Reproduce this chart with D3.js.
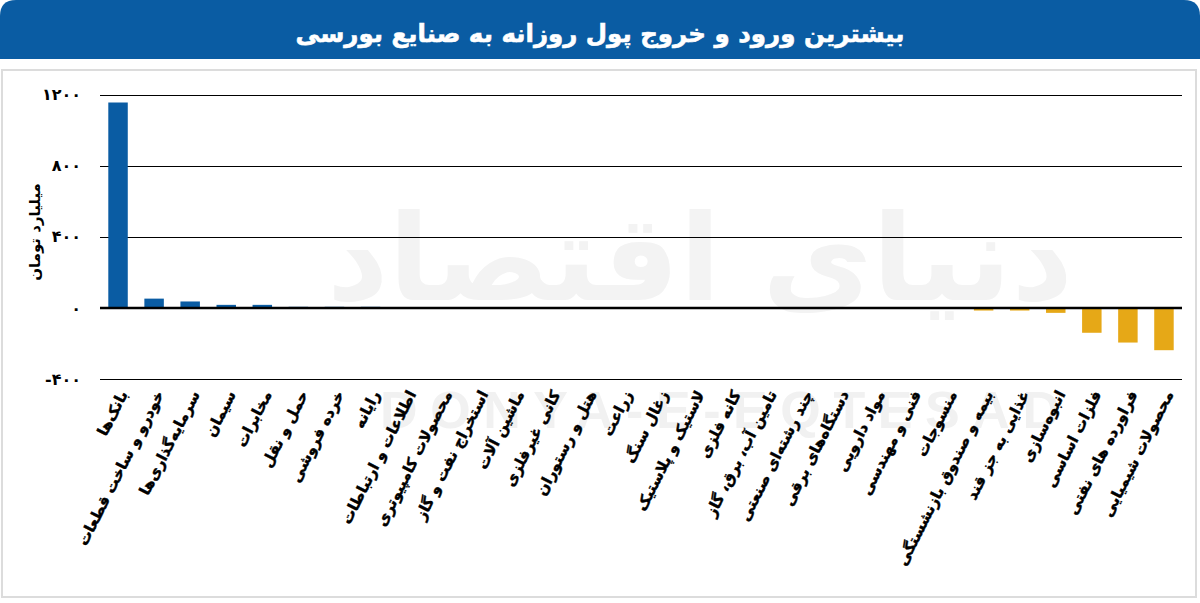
<!DOCTYPE html>
<html><head><meta charset="utf-8">
<script src="https://cdn.jsdelivr.net/npm/d3@7/dist/d3.min.js"></script>
<style>
html,body{margin:0;padding:0;background:#fff;}
svg{display:block;}
</style></head>
<body>
<svg id="chart" width="1200" height="603"></svg>
<script>
const title = "بیشترین ورود و خروج پول روزانه به صنایع بورسی";
const yLabel = "میلیارد تومان";
const categories = [
  "بانک‌ها","خودرو و ساخت قطعات","سرمایه‌گذاری‌ها","سیمان","مخابرات","حمل و نقل","خرده فروشی","رایانه",
  "اطلاعات و ارتباطات","محصولات کامپیوتری","استخراج نفت و گاز","ماشین آلات","کانی غیرفلزی","هتل و رستوران",
  "زراعت","زغال سنگ","لاستیک و پلاستیک","کانه فلزی","تامین آب، برق، گاز","چند رشته‌ای صنعتی",
  "دستگاه‌های برقی","مواد دارویی","فنی و مهندسی","منسوجات","بیمه و صندوق بازنشستگی","غذایی به جز قند",
  "انبوه‌سازی","فلزات اساسی","فراورده های نفتی","محصولات شیمیایی"
];
const values = [1155, 52, 36, 17, 17, 6, 6, 6,
  0, 0, 0, 0, 0, 0, 0, 0, 0,
  -5, -5, -5, -5, -5, -5, -5, -15, -15, -28, -140, -195, -238];
const yTicks = [-400, 0, 400, 800, 1200];
const yTickLabels = ["-۴۰۰", "۰", "۴۰۰", "۸۰۰", "۱۲۰۰"];

const svg = d3.select("#chart");
const W = 1200, H = 603;
const blue = "#0a5ca3", orange = "#e6a817";

// title bar
const r = 16;
svg.append("path")
  .attr("d", `M0,59 L0,${r} Q0,0 ${r},0 L${W - r},0 Q${W},0 ${W},${r} L${W},59 Z`)
  .attr("fill", blue);
svg.append("text").attr("x", W / 2).attr("y", 42)
  .attr("text-anchor", "middle").attr("fill", "#fff")
  .attr("font-family", "DejaVu Sans").attr("font-weight", "bold").attr("font-size", 24.5)
  .attr("stroke", "#fff").attr("stroke-width", 0.6)
  .text(title);

// frame
svg.append("rect").attr("x", 2).attr("y", 70).attr("width", 1194).attr("height", 527)
  .attr("fill", "none").attr("stroke", "#dcdcdc").attr("stroke-width", 2);

// watermark
svg.append("text").attr("x", 700).attr("y", 300).attr("text-anchor", "middle")
  .attr("fill", "#f3f3f3").attr("font-family", "DejaVu Sans").attr("font-weight", "bold")
  .attr("font-size", 120).text("دنیای اقتصاد");
svg.append("text").attr("x", 720).attr("y", 428).attr("text-anchor", "middle")
  .attr("fill", "#f1f1f1").attr("font-family", "Liberation Sans").attr("font-weight", "bold")
  .attr("font-size", 52).attr("textLength", 680).text("DONYA-E-EQTESAD");

const x = d3.scaleBand().domain(categories).range([100, 1182]).paddingInner(0.46).paddingOuter(0.23);
const y = d3.scaleLinear().domain([-400, 1200]).range([379, 94.5]);

// gridlines
const grid = svg.append("g");
grid.selectAll("line").data(yTicks.filter(d => d !== 0)).join("line")
  .attr("x1", 100).attr("x2", 1182)
  .attr("y1", d => Math.round(y(d)) + 0.5).attr("y2", d => Math.round(y(d)) + 0.5)
  .attr("stroke", "#000").attr("stroke-width", 1);

// y axis labels
const yAxis = d3.axisLeft(y).tickValues(yTicks).tickSize(0).tickPadding(0)
  .tickFormat((d) => yTickLabels[yTicks.indexOf(d)]);
const ya = svg.append("g").attr("transform", "translate(81,0)").call(yAxis);
ya.select(".domain").remove();
ya.selectAll("text").attr("font-family", "DejaVu Sans").attr("font-weight", "bold")
  .attr("font-size", 16).attr("fill", "#000");

svg.append("text").attr("transform", "translate(40,232) rotate(-90)")
  .attr("text-anchor", "middle").attr("font-family", "DejaVu Sans").attr("font-weight", "bold")
  .attr("font-size", 15).attr("fill", "#000").text(yLabel);

// bars
svg.append("g").selectAll("rect").data(categories).join("rect")
  .attr("x", d => x(d))
  .attr("width", x.bandwidth())
  .attr("y", (d, i) => y(Math.max(0, values[i])))
  .attr("height", (d, i) => Math.abs(y(values[i]) - y(0)))
  .attr("fill", (d, i) => values[i] >= 0 ? blue : orange);

// zero line
svg.append("line").attr("x1", 100).attr("x2", 1182).attr("y1", y(0)).attr("y2", y(0))
  .attr("stroke", "#000").attr("stroke-width", 2.5);

// x labels
const xAxis = d3.axisBottom(x).tickSize(0).tickPadding(0);
const xa = svg.append("g").attr("transform", "translate(0,394)").call(xAxis);
xa.select(".domain").remove();
xa.selectAll("text")
  .attr("font-family", "DejaVu Sans").attr("font-weight", "bold").attr("font-size", 15)
  .attr("fill", "#000").attr("stroke", "#000").attr("stroke-width", 0.4)
  .attr("text-anchor", "end").attr("dy", 0)
  .attr("transform", "translate(10,0) rotate(-63)");
</script>
</body></html>
